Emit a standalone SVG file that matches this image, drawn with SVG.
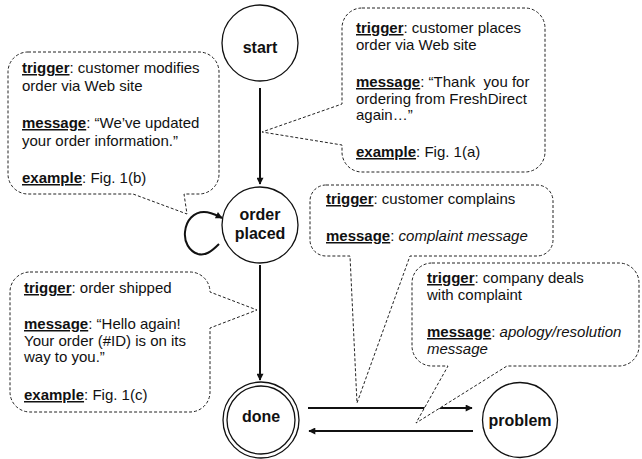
<svg xmlns="http://www.w3.org/2000/svg" width="642" height="459" viewBox="0 0 642 459">
  <style>
    .state { fill: #fff; stroke: #111; stroke-width: 1.3; }
    .label { font-family: "Liberation Sans", Arial, sans-serif; font-size: 16px; font-weight: bold; fill: #111; text-anchor: middle; }
    .bubble { fill: #fff; stroke: #222; stroke-width: 1; stroke-dasharray: 3 2; }
    .note { font-family: "Liberation Sans", Arial, sans-serif; font-size: 15px; fill: #111; white-space: pre; }
    .key { font-weight: bold; text-decoration: underline; text-decoration-thickness: 2px; }
    .it { font-style: italic; }
    .edge { fill: none; stroke: #111; stroke-width: 2; }
  </style>
  <defs>
    <marker id="arrow" viewBox="0 0 10 10" refX="9" refY="5" markerWidth="8" markerHeight="7" markerUnits="userSpaceOnUse" orient="auto">
      <path d="M0,0 L10,5 L0,10 Z" fill="#111"/>
    </marker>
  </defs>

  <!-- state transitions -->
  <g id="connectors">
    <path class="edge" d="M260,88 V184" marker-end="url(#arrow)"/>
    <path class="edge" d="M260,265 V380" marker-end="url(#arrow)"/>
    <path class="edge" d="M308,408 H472" marker-end="url(#arrow)"/>
    <path class="edge" d="M473,431 H309" marker-end="url(#arrow)"/>
    <path class="edge" d="M219,244 C211,252 205,256 198,254 C189,251 184,242 185,232 C186,220 194,212 204,212 C211,212 216,215 222,218" marker-end="url(#arrow)"/>
  </g>

  <!-- states -->
  <g id="start">
    <circle class="state" cx="260" cy="43" r="38"/>
    <text class="label" x="260" y="53">start</text>
  </g>
  <g id="order-placed">
    <circle class="state" cx="260" cy="225" r="38"/>
    <text class="label" x="260" y="220">order</text>
    <text class="label" x="260" y="239">placed</text>
  </g>
  <g id="done">
    <circle class="state" cx="261" cy="420" r="38"/>
    <circle class="state" cx="261" cy="420" r="34"/>
    <text class="label" x="261" y="422">done</text>
  </g>
  <g id="problem">
    <circle class="state" cx="520" cy="420" r="37.5"/>
    <text class="label" x="520" y="426">problem</text>
  </g>

  <!-- callouts describing each transition -->
  <g id="note-modify">
    <path class="bubble" d="M28,52 H199 A20,20 0 0 1 219,72 V174 A20,20 0 0 1 199,194 H184 L187,214 L133,194 H28 A20,20 0 0 1 8,174 V72 A20,20 0 0 1 28,52 Z"/>
    <text class="note" x="22" y="73"><tspan class="key">trigger</tspan>: customer modifies</text>
    <text class="note" x="22" y="90.5">order via Web site</text>
    <text class="note" x="22" y="128"><tspan class="key">message</tspan>: “We’ve updated</text>
    <text class="note" x="22" y="145.5">your order information.”</text>
    <text class="note" x="22" y="183"><tspan class="key">example</tspan>: Fig. 1(b)</text>
  </g>
  <g id="note-place">
    <path class="bubble" d="M362,8 H525 A20,20 0 0 1 545,28 V152 A20,20 0 0 1 525,172 H362 A20,20 0 0 1 342,152 V145 L262,132 L342,104 V28 A20,20 0 0 1 362,8 Z"/>
    <text class="note" x="356" y="33"><tspan class="key">trigger</tspan>: customer places</text>
    <text class="note" x="356" y="50">order via Web site</text>
    <text class="note" x="356" y="87"><tspan class="key">message</tspan>: “Thank  you for</text>
    <text class="note" x="356" y="104">ordering from FreshDirect</text>
    <text class="note" x="356" y="120">again…”</text>
    <text class="note" x="356" y="157"><tspan class="key">example</tspan>: Fig. 1(a)</text>
  </g>
  <g id="note-complain">
    <path class="bubble" d="M326,185 H537 A16,16 0 0 1 553,201 V240 A16,16 0 0 1 537,256 H410 L357,403 L350,256 H326 A16,16 0 0 1 310,240 V201 A16,16 0 0 1 326,185 Z"/>
    <text class="note" x="326" y="204"><tspan class="key">trigger</tspan>: customer complains</text>
    <text class="note" x="326" y="241"><tspan class="key">message</tspan>: <tspan class="it">complaint message</tspan></text>
  </g>
  <g id="note-resolve">
    <path class="bubble" d="M432,263 H619 A20,20 0 0 1 639,283 V346 A20,20 0 0 1 619,366 H507 L416,423 L448,366 H432 A20,20 0 0 1 412,346 V283 A20,20 0 0 1 432,263 Z"/>
    <text class="note" x="427" y="283"><tspan class="key">trigger</tspan>: company deals</text>
    <text class="note" x="427" y="300">with complaint</text>
    <text class="note" x="427" y="337"><tspan class="key">message</tspan>: <tspan class="it">apology/resolution</tspan></text>
    <text class="note it" x="427" y="354">message</text>
  </g>
  <g id="note-ship">
    <path class="bubble" d="M30,272 H190 A20,20 0 0 1 210,292 L257,310 L210,328 V392 A20,20 0 0 1 190,412 H30 A20,20 0 0 1 10,392 V292 A20,20 0 0 1 30,272 Z"/>
    <text class="note" x="24" y="293"><tspan class="key">trigger</tspan>: order shipped</text>
    <text class="note" x="24" y="329"><tspan class="key">message</tspan>: “Hello again!</text>
    <text class="note" x="24" y="346">Your order (#ID) is on its</text>
    <text class="note" x="24" y="362">way to you.”</text>
    <text class="note" x="24" y="400"><tspan class="key">example</tspan>: Fig. 1(c)</text>
  </g>
</svg>
